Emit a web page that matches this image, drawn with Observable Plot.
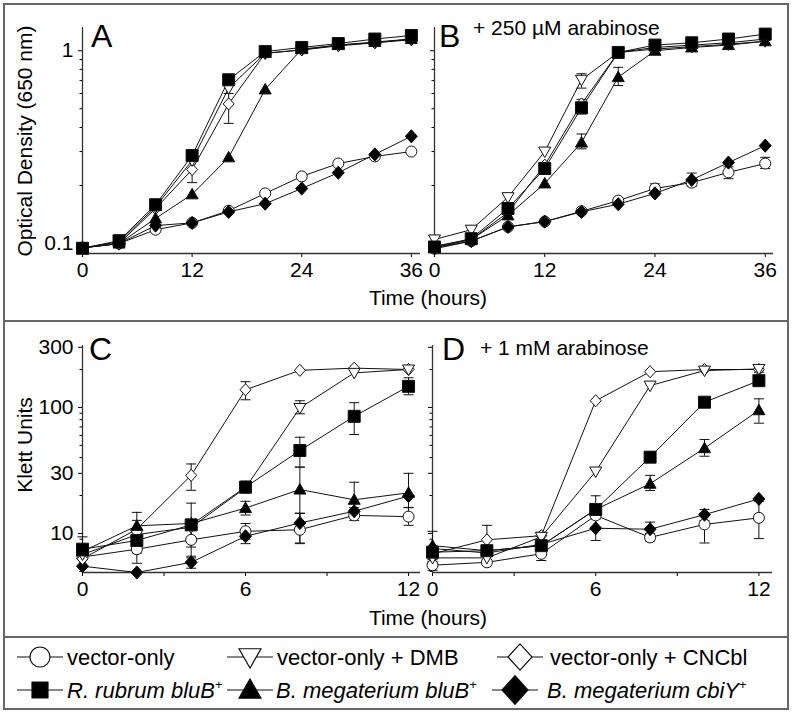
<!DOCTYPE html>
<html><head><meta charset="utf-8">
<script src="https://cdn.jsdelivr.net/npm/d3@7"></script>
<script src="https://cdn.jsdelivr.net/npm/@observablehq/plot@0.6"></script>
<style>
body{margin:0;background:#fff;}
#fig{position:relative;width:792px;height:715px;background:#fff;overflow:hidden;font-family:'Liberation Sans',Arial,sans-serif;}
.box{position:absolute;border:2px solid #666;box-sizing:border-box;}
.pn{position:absolute;}
</style></head><body><div id="fig"></div>
<script>
// ---------------- data ----------------
const hoursAB = [0,4,8,12,16,20,24,28,32,36];
const hoursCD = [0,2,4,6,8,10,12];
const seriesKeys = ["vec","dmb","cncbl","rru","bmeg","cbiy"];

// Panel A: OD650, no arabinose
const A_vec   = [0.095,0.100,0.118,0.128,0.148,0.182,0.223,0.260,0.283,0.300];
const A_dmb   = [0.095,0.102,0.155,0.270,0.640,0.970,1.010,1.060,1.100,1.150];
const A_cncbl = [0.095,0.100,0.152,0.242,0.530,0.970,1.010,1.070,1.100,1.140];
const A_rru   = [0.0945,0.1035,0.159,0.286,0.707,0.990,1.040,1.090,1.150,1.200];
const A_bmeg  = [0.095,0.100,0.135,0.180,0.280,0.630,1.020,1.070,1.110,1.150];
const A_cbiy  = [0.095,0.100,0.124,0.128,0.146,0.161,0.193,0.233,0.290,0.360];
const errA = [["cncbl",12,0.207,0.270],["cncbl",16,0.42,0.60]];

// Panel B: OD650, + 250 uM arabinose
const B_vec   = [0.094,0.103,0.122,0.130,0.147,0.167,0.193,0.207,0.234,0.260];
const B_dmb   = [0.105,0.118,0.174,0.300,0.707,0.980,1.020,1.050,1.080,1.120];
const B_cncbl = [0.097,0.105,0.145,0.255,0.530,0.980,1.040,1.070,1.100,1.150];
const B_rru   = [0.096,0.106,0.152,0.245,0.506,0.980,1.070,1.100,1.150,1.220];
const B_bmeg  = [0.095,0.105,0.140,0.205,0.334,0.730,1.000,1.040,1.070,1.120];
const B_cbiy  = [0.095,0.103,0.122,0.130,0.146,0.160,0.182,0.214,0.263,0.322];
const errB = [["dmb",0,0.099,0.109],["dmb",16,0.64,0.76],["rru",16,0.47,0.56],["bmeg",16,0.31,0.37],
  ["bmeg",20,0.66,0.82],["vec",24,0.185,0.204],["vec",28,0.198,0.232],["vec",32,0.217,0.250],["vec",36,0.245,0.280]];

// Panel C: Klett units, no arabinose
const C_vec   = [6.5,7.5,8.9,10.4,10.7,13.9,13.6];
const C_dmb   = [6.8,9.8,11.2,23,99,188,200];
const C_cncbl = [6.3,10.8,28.9,138,197,205,200];
const C_rru   = [7.5,8.8,11.7,23.3,45.5,85,147];
const C_bmeg  = [7.2,11.5,12.0,15.9,22.3,18.5,21];
const C_cbiy  = [5.5,4.9,5.9,9.5,12.1,15.0,19.8];
const errC = [["rru",0,6.9,9.4],["bmeg",2,9.5,14.7],["cncbl",2,8.0,12.7],["rru",2,7.0,10.5],["vec",2,5.8,9.5],
  ["cncbl",4,22,35.6],["bmeg",4,7.8,17.4],["vec",4,6.4,11],["cbiy",4,5.3,6.6],
  ["cncbl",6,115,160],["rru",6,21,26],["bmeg",6,14,18],["vec",6,9,12],["cbiy",6,8.3,10.5],
  ["dmb",8,89,113],["rru",8,33.6,58],["bmeg",8,8.4,33.6],["vec",8,8.3,14.5],["cbiy",8,11.2,14.4],
  ["rru",10,61,109],["bmeg",10,16,25.5],["vec",10,12.7,15.5],
  ["rru",12,126,172],["bmeg",12,16,30],["vec",12,11.6,16.1]];

// Panel D: Klett units, + 1 mM arabinose
const D_vec   = [5.6,5.9,6.9,13.9,9.3,11.8,13.3];
const D_dmb   = [6.4,6.4,9.4,31,149,196,202];
const D_cncbl = [6.9,8.9,9.6,113,192,200,200];
const D_rru   = [7.1,7.3,8.0,15.5,40.3,110,163];
const D_bmeg  = [8.0,7.3,8.0,15.5,24.8,47.5,95];
const D_cbiy  = [7.6,7.0,8.2,11.0,10.8,14.1,18.8];
const errD = [["bmeg",0,6.0,10.4],["vec",0,5.1,6.2],["cncbl",2,7.5,11.6],["dmb",4,8.5,10.2],["vec",4,6.1,7.8],
  ["rru",6,13,19.9],["cbiy",6,8.8,14],["bmeg",8,21.9,28.9],["cbiy",8,9.7,12.3],["vec",8,8.7,10],
  ["bmeg",10,41,55.6],["cbiy",10,12.7,15.5],["vec",10,8.4,14.5],
  ["bmeg",12,75,117],["vec",12,9.1,18],["dmb",12,190,215]];

// tick values
const odMajor = [0.1, 1];
const odMinor = [0.2,0.3,0.4,0.5,0.6,0.7,0.8,0.9];
const klettMajor = [10,30,100,300];
const klettMinor = [5,6,7,8,9,20,40,50,60,70,80,90,200];
const hourTicksAB = [0,12,24,36];
const hourTicksCD = [0,6,12];
const hourMinorCD = [3,9];

// ---------------- symbols ----------------
function sym(fn){ return {draw(ctx, size){ const r = Math.sqrt(size/Math.PI); fn(ctx, r); }}; }
const circleSym  = sym((c,r)=>{ c.moveTo(r,0); c.arc(0,0,r,0,2*Math.PI); c.closePath(); });
const squareSym  = sym((c,r)=>{ c.rect(-r,-r,2*r,2*r); });
const triUpSym   = sym((c,r)=>{ c.moveTo(0,-r); c.lineTo(r,0.75*r); c.lineTo(-r,0.75*r); c.closePath(); });
const triDownSym = sym((c,r)=>{ c.moveTo(-r,-0.75*r); c.lineTo(r,-0.75*r); c.lineTo(0,r); c.closePath(); });
const diamondSym = sym((c,r)=>{ c.moveTo(0,-1.1*r); c.lineTo(r,0); c.lineTo(0,1.1*r); c.lineTo(-r,0); c.closePath(); });
const capSym     = sym((c,r)=>{ c.moveTo(-r,0); c.lineTo(r,0); });

const styles = {
  vec:   {symbol: circleSym,  r: 5.5, fill: "white"},
  dmb:   {symbol: triDownSym, r: 6,   fill: "white"},
  cncbl: {symbol: diamondSym, r: 5.5, fill: "white"},
  rru:   {symbol: squareSym,  r: 6,   fill: "black"},
  bmeg:  {symbol: triUpSym,   r: 6,   fill: "black"},
  cbiy:  {symbol: diamondSym, r: 6,   fill: "black"}
};
const drawOrder = ["vec","cbiy","cncbl","dmb","bmeg","rru"];
const FONT = "'Liberation Sans', Arial, sans-serif";

function panel(cfg){
  const rows = [];
  seriesKeys.forEach(k => cfg.series[k].forEach((v,i)=>rows.push({s:k, t:cfg.hours[i], v})));
  const errs = cfg.errs.map(([s,t,lo,hi])=>({s,t,lo,hi}));
  const ink = "#111";
  const marks = [
    Plot.axisX({ticks: cfg.xMajor, tickSize: 4, tickPadding: 5, tickFormat: d=>String(d), label: null}),
    Plot.axisY({ticks: cfg.yMajor, tickSize: 4, tickPadding: 5, tickFormat: cfg.yLabels ? (d=>String(d)) : (()=>""), label: null}),
    Plot.axisY({ticks: cfg.yMinor, tickSize: 2.5, tickFormat: ()=>"", label: null}),
    Plot.ruleY([cfg.ydom[0]], {stroke: "#333", strokeWidth: 1.3}),
    Plot.ruleX([0], {stroke: "#333", strokeWidth: 1.3}),
    Plot.line(rows, {x:"t", y:"v", z:"s", stroke: ink, strokeWidth: 1}),
    Plot.ruleX(errs, {x:"t", y1:"lo", y2:"hi", stroke: ink, strokeWidth: 1}),
    Plot.dot(errs, {x:"t", y:"lo", symbol: capSym, r: 5, stroke: ink, fill: "none", strokeWidth: 1}),
    Plot.dot(errs, {x:"t", y:"hi", symbol: capSym, r: 5, stroke: ink, fill: "none", strokeWidth: 1}),
    ...drawOrder.map(k => Plot.dot(rows.filter(d=>d.s===k), {x:"t", y:"v", symbol: styles[k].symbol, r: styles[k].r,
        fill: styles[k].fill, stroke: ink, strokeWidth: 1}))
  ];
  if (cfg.xMinor) marks.splice(1, 0, Plot.axisX({ticks: cfg.xMinor, tickSize: 4, tickFormat: ()=>"", label: null}));
  const svg = Plot.plot({
    width: cfg.width, height: cfg.height,
    marginLeft: cfg.mL, marginRight: cfg.mR, marginTop: cfg.mT, marginBottom: cfg.mB,
    style: {background: "transparent", fontFamily: FONT, fontSize: "21px", color: "#000", overflow: "visible"},
    x: {domain: [0, cfg.xmax]},
    y: {type: "log", domain: cfg.ydom},
    marks
  });
  const wrap = document.createElement("div");
  wrap.className = "pn";
  wrap.style.left = cfg.left + "px";
  wrap.style.top = cfg.top + "px";
  wrap.appendChild(svg);
  return wrap;
}

const fig = document.getElementById("fig");
// boxes
[[3,3,786,319],[3,320,786,318],[3,636,786,74]].forEach(([l,t,w,h])=>{
  const b = document.createElement("div"); b.className = "box";
  Object.assign(b.style, {left: l+"px", top: t+"px", width: w+"px", height: h+"px"});
  fig.appendChild(b);
});

const ydomOD = [0.0888, 1.32];
const ydomK = [4.9, 310];
fig.appendChild(panel({left:0, top:0, width:430, height:290, mL:82, mR:10, mT:27, mB:37, xmax:37, ydom:ydomOD,
  hours:hoursAB, series:{vec:A_vec,dmb:A_dmb,cncbl:A_cncbl,rru:A_rru,bmeg:A_bmeg,cbiy:A_cbiy}, errs:errA,
  xMajor:hourTicksAB, yMajor:odMajor, yMinor:odMinor, yLabels:true}));
fig.appendChild(panel({left:400, top:0, width:392, height:290, mL:34, mR:19, mT:27, mB:37, xmax:36.9, ydom:ydomOD,
  hours:hoursAB, series:{vec:B_vec,dmb:B_dmb,cncbl:B_cncbl,rru:B_rru,bmeg:B_bmeg,cbiy:B_cbiy}, errs:errB,
  xMajor:hourTicksAB, yMajor:odMajor, yMinor:odMinor, yLabels:false}));
fig.appendChild(panel({left:0, top:320, width:430, height:290, mL:82, mR:10, mT:25, mB:38, xmax:12.44, ydom:ydomK,
  hours:hoursCD, series:{vec:C_vec,dmb:C_dmb,cncbl:C_cncbl,rru:C_rru,bmeg:C_bmeg,cbiy:C_cbiy}, errs:errC,
  xMajor:hourTicksCD, xMinor:hourMinorCD, yMajor:klettMajor, yMinor:klettMinor, yLabels:true}));
fig.appendChild(panel({left:400, top:320, width:392, height:290, mL:32, mR:20, mT:25, mB:38, xmax:12.5, ydom:ydomK,
  hours:hoursCD, series:{vec:D_vec,dmb:D_dmb,cncbl:D_cncbl,rru:D_rru,bmeg:D_bmeg,cbiy:D_cbiy}, errs:errD,
  xMajor:hourTicksCD, xMinor:hourMinorCD, yMajor:klettMajor, yMinor:klettMinor, yLabels:false}));

// ---------------- overlay text & legend ----------------
const ov = d3.select(fig).append("svg").attr("width",792).attr("height",715)
  .style("position","absolute").style("left","0px").style("top","0px")
  .style("font-family", FONT).style("pointer-events","none");
const txt = (x,y,s,size,extra={}) => {
  const t = ov.append("text").attr("x",x).attr("y",y).attr("font-size",size).attr("fill","#000").text(s);
  Object.entries(extra).forEach(([k,v])=>t.attr(k,v));
  return t;
};
txt(91,47,"A",32); txt(439,47,"B",32);
txt(473,35,"+ 250 µM arabinose",21);
txt(89,360,"C",32); txt(442,360,"D",32);
txt(480,355,"+ 1 mM arabinose",21);
txt(428,305,"Time (hours)",21,{"text-anchor":"middle"});
txt(428,625,"Time (hours)",21,{"text-anchor":"middle"});
txt(0,0,"Optical Density (650 nm)",21,{"text-anchor":"middle","transform":"translate(32,141) rotate(-90)"});
txt(0,0,"Klett Units",21,{"text-anchor":"middle","transform":"translate(32,445) rotate(-90)"});

const legendItems = [
  {k:"vec",   cx:40,  y:657, tx:67,  r:10, parts:[["vector-only",false]]},
  {k:"dmb",   cx:250, y:657, tx:277, r:11, parts:[["vector-only + DMB",false]]},
  {k:"cncbl", cx:520, y:657, tx:550, r:12, parts:[["vector-only + CNCbl",false]]},
  {k:"rru",   cx:40,  y:690, tx:67,  r:8,  parts:[["R. rubrum bluB",true],["+",false,true]]},
  {k:"bmeg",  cx:250, y:690, tx:276, r:11, parts:[["B. megaterium bluB",true],["+",false,true]]},
  {k:"cbiy",  cx:515, y:690, tx:547, r:13, parts:[["B. megaterium cbiY",true],["+",false,true]]}
];
legendItems.forEach(it=>{
  ov.append("line").attr("x1",it.cx-23).attr("x2",it.cx+23).attr("y1",it.y).attr("y2",it.y)
    .attr("stroke","#111").attr("stroke-width",1.2);
  const p = d3.path(); styles[it.k].symbol.draw(p, Math.PI*it.r*it.r);
  ov.append("path").attr("d",p.toString()).attr("transform",`translate(${it.cx},${it.y})`)
    .attr("fill",styles[it.k].fill).attr("stroke","#111").attr("stroke-width",1.2);
  const t = ov.append("text").attr("x",it.tx).attr("y",it.y+7.5).attr("font-size",22).attr("fill","#000");
  it.parts.forEach(([s,ital,sup])=>{
    const ts = t.append("tspan").text(s);
    if (ital) ts.attr("font-style","italic");
    if (sup) ts.attr("font-size",13).attr("dy",-9);
  });
});
</script></body></html>
